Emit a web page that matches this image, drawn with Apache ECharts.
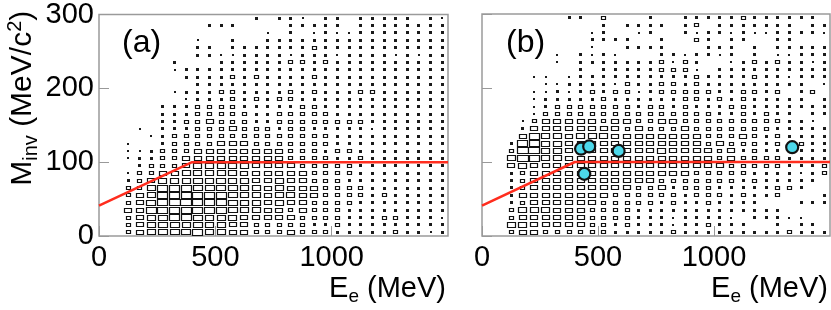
<!DOCTYPE html>
<html><head><meta charset="utf-8">
<script src="https://cdn.jsdelivr.net/npm/echarts@6/dist/echarts.min.js"></script>
<style>html,body{margin:0;padding:0;background:#fff}#c{width:831px;height:310px}</style>
</head><body><div id="c"></div>
<script>
// bin centres
const eBins = [125,175,225,275,325,375,425,475,525,575,625,675,725,775,825,875,925,975,1025,1075,1125,1175,1225,1275,1325,1375,1425,1475];
const mBins = [295,285,275,265,255,245,235,225,215,205,195,185,175,165,155,145,135,125,115,105,95,85,75,65,55,45,35,25,15,5];
// box-size level per cell (rows top->bottom, columns E 125..1475)
const countsA = [
"0000000000020221022022222021",
"0000000222000022222022222222",
"0000000000001020121122222222",
"0000001002002222222222222222",
"0000002202222222322222222222",
"0000002211222212221222212122",
"0000200022222233232222222222",
"0000122222222222222222222222",
"0000022223232222322222222222",
"0000002222222222222222222222",
"0000122233222232322233222222",
"0000012223232332222222222222",
"0002223333222223322222222222",
"0002223333322333332222222222",
"0002233433322333333332222222",
"0102223334333233222221222222",
"0012333333333333332222222222",
"1002333344433333332222222222",
"1123334444444433323322222222",
"1223344444444433332232222222",
"0233345555544443333322222222",
"1334455555444444333322222222",
"2345556565544544333222222222",
"3357776666554544433332222222",
"3458887886554554433332322222",
"3468998886554544333322222222",
"4478888776554434333222222222",
"3456776555444443333222332221",
"3456656554433333223222222222",
"3456667554433343332222232212"
];
const countsB = [
"0000022030002002222232222220",
"0000000020222202302222222022",
"0000000120012002122121122221",
"0000000222200200320220022000",
"0000000100222200022202022222",
"0000102121000221221202011222",
"0000102222222313200123232212",
"0000002022222333102222222222",
"0011012222222222322223221222",
"0001122221322332322222222201",
"0011212323312333332233230230",
"0012222232222223323232222202",
"0012333333323323222332222222",
"0013333333333333332232322022",
"0134444434433443333333332210",
"0244444444343334333333322222",
"0485545554444444433343232222",
"2785544444444444434333232322",
"3995544444444544443423222222",
"5985544444444444443433332222",
"4544444444444444444333332223",
"2344444444444444333332222123",
"2344444444444333333323222220",
"2344444444433423332222233200",
"2444444443333332333232230002",
"2344444433333232232222000222",
"3555444333322222222222220000",
"3444444333322212222102221100",
"5544444332322212232220020220",
"3443333332222232222222223222"
];
// cut line (E, M)
const cutE = [0, 400, 1500];
const cutM = [41, 100, 100];
// events in panel (b)
const evE = [427, 462, 589, 441, 1337];
const evM = [118, 121, 115, 84, 120];
// axis ticks
const xTicks = [0, 500, 1000, 1500];
const yTicks = [0, 100, 200, 300];

const FONT = "'Liberation Sans', Arial, Helvetica, sans-serif";
const WF = [0, .16, .27, .43, .7, .8, .87, .93, .97, 1.0];
const HF = [0, .24, .38, .54, .67, .76, .83, .9, .96, 1.0];

function cells(rows) {
  const out = [];
  rows.forEach((row, r) => {
    for (let k = 0; k < row.length; k++) {
      const L = +row[k];
      if (L > 0) out.push([eBins[k], mBins[r], L]);
    }
  });
  return out;
}
function renderBox(params, api) {
  const c = api.coord([api.value(0), api.value(1)]);
  const s = api.size([50, 10]);
  const L = api.value(2);
  const w = s[0] * WF[L], h = s[1] * HF[L];
  if (L <= 2) {
    const ww = Math.max(1, Math.round(w)), hh = Math.max(1, Math.round(h));
    return {type: 'rect', shape: {x: Math.round(c[0] - ww / 2), y: Math.round(c[1] - hh / 2), width: ww, height: hh},
      style: {fill: '#1a1a1a'}};
  }
  const ww = Math.round(w), hh = Math.round(h);
  return {type: 'rect', shape: {x: Math.round(c[0] - ww / 2) + 0.5, y: Math.round(c[1] - hh / 2) + 0.5, width: ww - 1, height: hh - 1},
    style: {fill: '#fff', stroke: '#111', lineWidth: 1.2}};
}

const richX = {
  b: {fontSize: 29, lineHeight: 35, fontFamily: FONT, color: '#000'},
  s: {fontSize: 19, lineHeight: 19, verticalAlign: 'bottom', fontFamily: FONT, color: '#000'}
};
const richY = {
  b: {fontSize: 30, lineHeight: 36, fontFamily: FONT, color: '#000'},
  s: {fontSize: 20, lineHeight: 20, verticalAlign: 'bottom', fontFamily: FONT, color: '#000'},
  p: {fontSize: 20, lineHeight: 20, verticalAlign: 'top', fontFamily: FONT, color: '#000'}
};

function xAxis(i) {
  return {
    gridIndex: i, type: 'value', min: xTicks[0], max: xTicks[xTicks.length - 1], interval: 500,
    axisLine: {show: false},
    axisTick: {inside: true, length: 10, lineStyle: {color: '#999', width: 1}},
    axisLabel: {fontSize: 29, fontFamily: FONT, color: '#000', margin: 7, showMaxLabel: false,
      formatter: v => String(v)},
    splitLine: {show: false},
    name: '{b|E}{s|e}{b| (MeV)}', nameLocation: 'end', nameGap: 0,
    nameTextStyle: {align: 'right', verticalAlign: 'top', padding: [35, 2, 0, 0], rich: richX}
  };
}
function yAxis(i) {
  const o = {
    gridIndex: i, type: 'value', min: yTicks[0], max: yTicks[yTicks.length - 1], interval: 100,
    axisLine: {show: false},
    axisTick: {inside: true, length: 10, lineStyle: {color: '#999', width: 1}},
    axisLabel: {show: i === 0, fontSize: 29, fontFamily: FONT, color: '#000', margin: 5,
      formatter: v => String(v)},
    splitLine: {show: false}
  };
  if (i === 0) {
    o.name = '{b|M}{s|inv}{b| (MeV/c}{p|2}{b|)}';
    o.nameLocation = 'middle';
    o.nameGap = 58;
    o.nameTextStyle = {padding: [0, 0, 0, 54], rich: richY};
  }
  return o;
}

const chart = echarts.init(document.getElementById('c'), null, {renderer: 'canvas'});
const cutData = cutE.map((e, i) => [e, cutM[i]]);
chart.setOption({
  animation: false,
  backgroundColor: '#fff',
  grid: [
    {left: 99, top: 14, width: 349, height: 222, show: true, borderColor: '#9a9a9a', borderWidth: 1.5, backgroundColor: 'transparent'},
    {left: 482, top: 14, width: 348, height: 222, show: true, borderColor: '#9a9a9a', borderWidth: 1.5, backgroundColor: 'transparent'}
  ],
  xAxis: [xAxis(0), xAxis(1)],
  yAxis: [yAxis(0), yAxis(1)],
  graphic: [
    {type: 'text', left: 122, top: 27, style: {text: '(a)', font: '32px ' + FONT, fill: '#000'}},
    {type: 'text', left: 506, top: 27, style: {text: '(b)', font: '32px ' + FONT, fill: '#000'}}
  ],
  series: [
    {type: 'custom', xAxisIndex: 0, yAxisIndex: 0, data: cells(countsA), renderItem: renderBox, clip: true, encode: {x: 0, y: 1}, silent: true},
    {type: 'custom', xAxisIndex: 1, yAxisIndex: 1, data: cells(countsB), renderItem: renderBox, clip: true, encode: {x: 0, y: 1}, silent: true},
    {type: 'line', xAxisIndex: 0, yAxisIndex: 0, data: cutData, symbol: 'none', lineStyle: {color: '#ff2d1e', width: 2.5}, z: 5, silent: true},
    {type: 'line', xAxisIndex: 1, yAxisIndex: 1, data: cutData, symbol: 'none', lineStyle: {color: '#ff2d1e', width: 2.5}, z: 5, silent: true},
    {type: 'scatter', xAxisIndex: 1, yAxisIndex: 1, data: evE.map((e, i) => [e, evM[i]]), symbolSize: 12,
      itemStyle: {color: '#4cd8ea', borderColor: '#111', borderWidth: 2.2, opacity: 1}, z: 6, silent: true}
  ]
});
</script>
</body></html>
